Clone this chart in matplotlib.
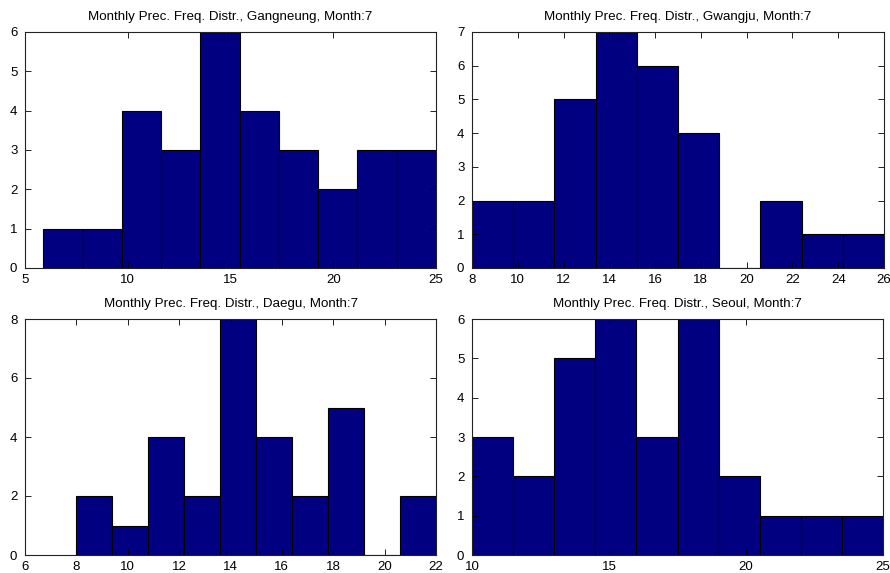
import numpy as np
import matplotlib
matplotlib.use("Agg")
import matplotlib.pyplot as plt

plt.rcParams['font.family'] = ['Liberation Sans', 'DejaVu Sans']

stations = ["Gangneung", "Gwangju", "Daegu", "Seoul"]

gangneung_edges = [5.9, 7.81, 9.72, 11.63, 13.54, 15.45, 17.36, 19.27, 21.18, 23.09, 25.0]
gangneung_counts = [1, 1, 4, 3, 6, 4, 3, 2, 3, 3]

gwangju_edges = [8.0, 9.8, 11.6, 13.4, 15.2, 17.0, 18.8, 20.6, 22.4, 24.2, 26.0]
gwangju_counts = [2, 2, 5, 7, 6, 4, 0, 2, 1, 1]

daegu_edges = [8.0, 9.4, 10.8, 12.2, 13.6, 15.0, 16.4, 17.8, 19.2, 20.6, 22.0]
daegu_counts = [2, 1, 4, 2, 8, 4, 2, 5, 0, 2]

seoul_edges = [10.0, 11.5, 13.0, 14.5, 16.0, 17.5, 19.0, 20.5, 22.0, 23.5, 25.0]
seoul_counts = [3, 2, 5, 6, 3, 6, 2, 1, 1, 1]

xlims = [(5, 25), (8, 26), (6, 22), (10, 25)]
ylims = [(0, 6), (0, 7), (0, 8), (0, 6)]
xticks = [[5, 10, 15, 20, 25], list(range(8, 27, 2)), list(range(6, 23, 2)), [10, 15, 20, 25]]
yticks = [list(range(0, 7)), list(range(0, 8)), [0, 2, 4, 6, 8], list(range(0, 7))]

edges_all = [gangneung_edges, gwangju_edges, daegu_edges, seoul_edges]
counts_all = [gangneung_counts, gwangju_counts, daegu_counts, seoul_counts]

fig = plt.figure(figsize=(8.9, 5.73), dpi=100)
positions = [
    [25/890, 1-268/573, 411/890, 236/573],
    [472/890, 1-268/573, 412/890, 236/573],
    [25/890, 1-555/573, 411/890, 236/573],
    [472/890, 1-555/573, 411/890, 236/573],
]

for i in range(4):
    ax = fig.add_axes(positions[i])
    e = np.array(edges_all[i])
    c = np.array(counts_all[i])
    ax.bar(e[:-1], c, width=np.diff(e), align='edge', color='#000080',
           edgecolor='black', linewidth=0.8)
    ax.set_xlim(*xlims[i])
    ax.set_ylim(*ylims[i])
    ax.set_xticks(xticks[i])
    ax.set_yticks(yticks[i])
    ax.tick_params(direction='in', top=True, right=True, length=4, width=0.6,
                   labelsize=9.5)
    ax.tick_params(axis='x', pad=4)
    ax.tick_params(axis='y', pad=5.5)
    for s in ax.spines.values():
        s.set_linewidth(0.8)
        s.set_color('#222222')
    ax.set_title(f"Monthly Prec. Freq. Distr., {stations[i]}, Month:7",
                 fontsize=9.6, pad=8.5)

fig.savefig("out.png", dpi=100)
